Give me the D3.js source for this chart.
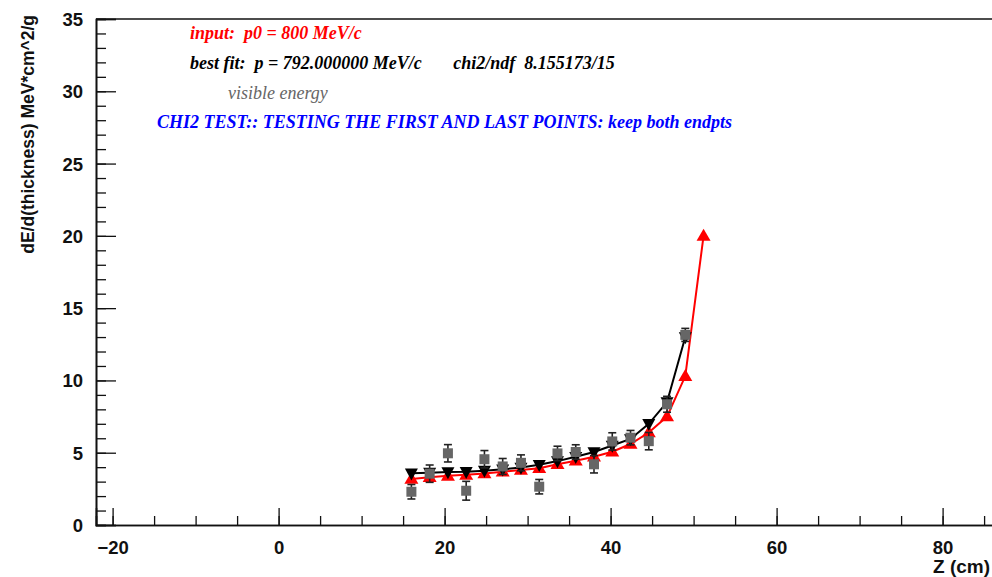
<!DOCTYPE html>
<html>
<head>
<meta charset="utf-8">
<script src="https://cdn.jsdelivr.net/npm/d3@7"></script>
<style>
  html, body { margin: 0; padding: 0; background: #fff; }
  svg { display: block; }
</style>
</head>
<body>
<svg id="chart" width="992" height="577"></svg>
<script>
// Positions along the track (cm)
const zInput = [16.0, 18.2, 20.4, 22.6, 24.8, 27.0, 29.2, 31.4, 33.6, 35.8, 38.0, 40.2, 42.4, 44.6, 46.8, 49.0, 51.2];
const zData  = [16.0, 18.2, 20.4, 22.6, 24.8, 27.0, 29.2, 31.4, 33.6, 35.8, 38.0, 40.2, 42.4, 44.6, 46.8, 49.0];

// dE/dx expected for the input momentum p0 = 800 MeV/c
const inputValues = [3.18, 3.30, 3.40, 3.47, 3.57, 3.69, 3.80, 3.93, 4.20, 4.45, 4.72, 5.07, 5.60, 6.40, 7.50, 10.30, 20.0];
// dE/dx for the best fit momentum p = 792 MeV/c
const fitValues = [3.58, 3.62, 3.66, 3.68, 3.76, 3.85, 3.97, 4.17, 4.42, 4.72, 5.05, 5.50, 5.95, 7.00, 8.50, 13.0];
// visible energy measurements and their uncertainties
const visValues = [2.30, 3.55, 4.96, 2.37, 4.55, 4.05, 4.30, 2.65, 4.95, 5.05, 4.20, 5.78, 6.04, 5.80, 8.35, 13.15];
const visErrors = [0.50, 0.60, 0.60, 0.65, 0.60, 0.55, 0.55, 0.50, 0.50, 0.50, 0.60, 0.60, 0.50, 0.60, 0.55, 0.45];

const xMajorTicks = [-20, 0, 20, 40, 60, 80];
const yMajorTicks = [0, 5, 10, 15, 20, 25, 30, 35];

const svg = d3.select("#chart");

const x = d3.scaleLinear().domain([-22, 88]).range([96, 1009]);
const y = d3.scaleLinear().domain([0, 35]).range([525, 19]);

const axisColor = "#111";
const tickFont = "'Liberation Sans', Arial, Helvetica, sans-serif";
const textFont = "'Liberation Serif', 'Times New Roman', serif";

// frame: top line and the two axes
svg.append("line")
  .attr("x1", x.range()[0]).attr("x2", x.range()[1])
  .attr("y1", y(35)).attr("y2", y(35))
  .attr("stroke", axisColor).attr("stroke-width", 1.3);

// x axis
const xAxisMinor = d3.axisBottom(x).tickValues(d3.range(-20, 90, 5)).tickSize(-9).tickFormat("");
const xAxisMajor = d3.axisBottom(x).tickValues(xMajorTicks).tickSize(-17).tickFormat(d3.format("d"));

const gxMinor = svg.append("g").attr("transform", `translate(0,${y(0)})`).call(xAxisMinor);
const gxMajor = svg.append("g").attr("transform", `translate(0,${y(0)})`).call(xAxisMajor);
[gxMinor, gxMajor].forEach(g => {
  g.select(".domain").attr("stroke", axisColor).attr("stroke-width", 1.6);
  g.selectAll(".tick line").attr("stroke", axisColor).attr("stroke-width", 1.3);
});
gxMajor.selectAll(".tick text")
  .attr("font-family", tickFont).attr("font-weight", "bold").attr("font-size", 18.5)
  .attr("fill", "#111").attr("dy", "0").attr("y", 29);

// y axis
const yAxisMinor = d3.axisLeft(y).tickValues(d3.range(0, 36, 1)).tickSize(-10).tickFormat("");
const yAxisMajor = d3.axisLeft(y).tickValues(yMajorTicks).tickSize(-20).tickFormat(d3.format("d"));

const gyMinor = svg.append("g").attr("transform", `translate(${x(-22)},0)`).call(yAxisMinor);
const gyMajor = svg.append("g").attr("transform", `translate(${x(-22)},0)`).call(yAxisMajor);
[gyMinor, gyMajor].forEach(g => {
  g.select(".domain").attr("stroke", axisColor).attr("stroke-width", 1.6);
  g.selectAll(".tick line").attr("stroke", axisColor).attr("stroke-width", 1.3);
});
gyMajor.selectAll(".tick text")
  .attr("font-family", tickFont).attr("font-weight", "bold").attr("font-size", 18.5)
  .attr("fill", "#111").attr("x", -13).attr("dy", "0.35em");

// axis titles
svg.append("text")
  .attr("transform", `translate(34,15) rotate(-90)`)
  .attr("text-anchor", "end")
  .attr("font-family", tickFont).attr("font-weight", "bold").attr("font-size", 17.5)
  .attr("fill", "#111")
  .text("dE/d(thickness) MeV*cm^2/g");

svg.append("text")
  .attr("x", 990).attr("y", 573)
  .attr("text-anchor", "end")
  .attr("font-family", tickFont).attr("font-weight", "bold").attr("font-size", 19)
  .attr("fill", "#111")
  .text("Z (cm)");

// curves
const inputPts = zInput.map((z, i) => [z, inputValues[i]]);
const fitPts = zData.map((z, i) => [z, fitValues[i]]);
const line = d3.line().x(d => x(d[0])).y(d => y(d[1]));

svg.append("path").datum(inputPts)
  .attr("d", line)
  .attr("fill", "none").attr("stroke", "#ff0000").attr("stroke-width", 2);

const triUp = (w, h) => `M0,${-h * 0.6}L${w / 2},${h * 0.4}L${-w / 2},${h * 0.4}Z`;
const triDown = (w, h) => `M0,${h * 0.6}L${w / 2},${-h * 0.4}L${-w / 2},${-h * 0.4}Z`;

svg.append("g").selectAll("path").data(inputPts).join("path")
  .attr("transform", d => `translate(${x(d[0])},${y(d[1])})`)
  .attr("d", triUp(14, 12))
  .attr("fill", "#ff0000");

svg.append("path").datum(fitPts)
  .attr("d", line)
  .attr("fill", "none").attr("stroke", "#000").attr("stroke-width", 2);

svg.append("g").selectAll("path").data(fitPts).join("path")
  .attr("transform", d => `translate(${x(d[0])},${y(d[1])})`)
  .attr("d", triDown(13, 12))
  .attr("fill", "#000");

// visible energy points with error bars
const vis = zData.map((z, i) => ({ z, v: visValues[i], e: visErrors[i] }));
const gVis = svg.append("g");
const pt = gVis.selectAll("g").data(vis).join("g")
  .attr("transform", d => `translate(${x(d.z)},0)`);
pt.append("line")
  .attr("x1", 0).attr("x2", 0)
  .attr("y1", d => y(d.v - d.e)).attr("y2", d => y(d.v + d.e))
  .attr("stroke", "#222").attr("stroke-width", 1.6);
pt.append("line")
  .attr("x1", -4).attr("x2", 4)
  .attr("y1", d => y(d.v + d.e)).attr("y2", d => y(d.v + d.e))
  .attr("stroke", "#222").attr("stroke-width", 1.6);
pt.append("line")
  .attr("x1", -4).attr("x2", 4)
  .attr("y1", d => y(d.v - d.e)).attr("y2", d => y(d.v - d.e))
  .attr("stroke", "#222").attr("stroke-width", 1.6);
pt.append("rect")
  .attr("x", -5).attr("width", 10)
  .attr("y", d => y(d.v) - 5).attr("height", 10)
  .attr("fill", "#666");

// annotations
const notes = [
  { text: "input:  p0 = 800 MeV/c", x: 190, y: 39, color: "#ff0000", weight: "bold" },
  { text: "best fit:  p = 792.000000 MeV/c       chi2/ndf  8.155173/15", x: 190, y: 69, color: "#000", weight: "bold" },
  { text: "visible energy", x: 228, y: 99, color: "#666", weight: "normal" },
  { text: "CHI2 TEST:: TESTING THE FIRST AND LAST POINTS: keep both endpts", x: 157, y: 128, color: "#0000ff", weight: "bold" }
];
svg.append("g").selectAll("text").data(notes).join("text")
  .attr("x", d => d.x).attr("y", d => d.y)
  .attr("fill", d => d.color)
  .attr("font-family", textFont).attr("font-style", "italic")
  .attr("font-weight", d => d.weight).attr("font-size", 18)
  .attr("xml:space", "preserve").style("white-space", "pre")
  .text(d => d.text);
</script>
</body>
</html>
